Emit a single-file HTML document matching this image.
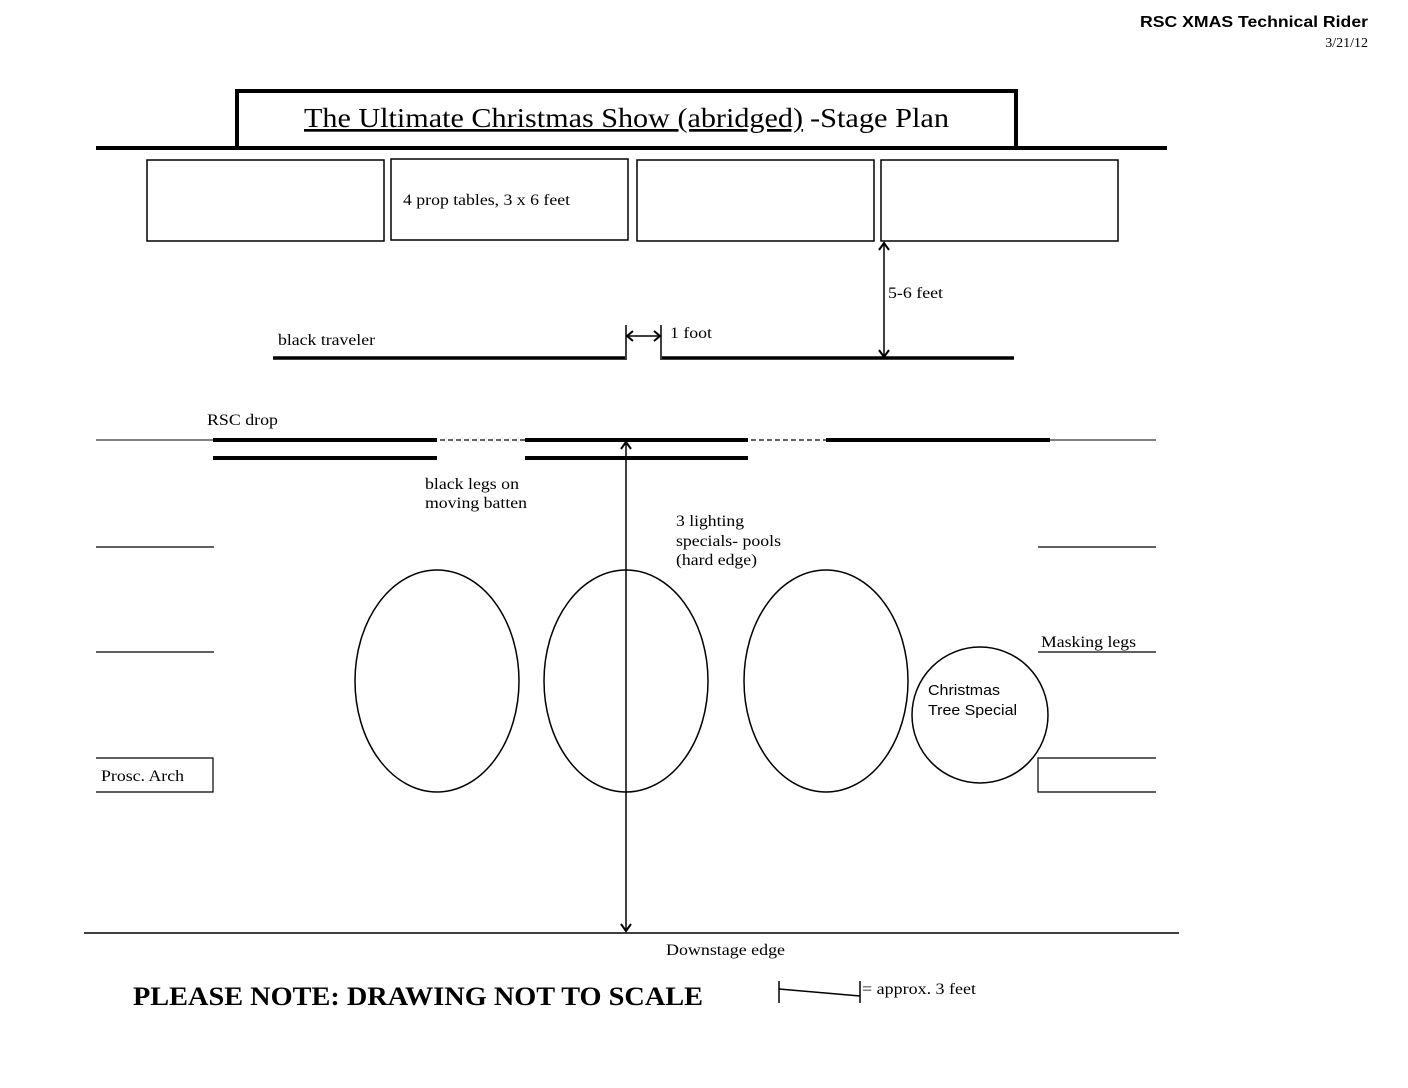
<!DOCTYPE html>
<html><head><style>body{margin:0;background:#fff}</style></head><body>
<svg width="1408" height="1088" xmlns="http://www.w3.org/2000/svg" style="display:block">
<g font-family="Liberation Serif, serif" fill="#000">
<text x="1140" y="27" textLength="228" lengthAdjust="spacingAndGlyphs" font-family="Liberation Sans, sans-serif" font-weight="bold" font-size="16">RSC XMAS Technical Rider</text>
<text x="1368" y="47" text-anchor="end" font-size="14">3/21/12</text>
</g>
<g fill="none" stroke="#000">
<rect x="237" y="91" width="779" height="57" stroke-width="4"/>
<line x1="96" y1="148" x2="1167" y2="148" stroke-width="4"/>
<rect x="147" y="160" width="237" height="81" stroke-width="1.5"/>
<rect x="391" y="159" width="237" height="81" stroke-width="1.5"/>
<rect x="637" y="160" width="237" height="81" stroke-width="1.5"/>
<rect x="881" y="160" width="237" height="81" stroke-width="1.5"/>
<line x1="273" y1="358" x2="625" y2="358" stroke-width="3.5"/>
<line x1="662" y1="358" x2="1014" y2="358" stroke-width="3.5"/>
<line x1="626" y1="325" x2="626" y2="360" stroke-width="1.5"/>
<line x1="661" y1="325" x2="661" y2="360" stroke-width="1.5"/>
<line x1="627" y1="336" x2="660" y2="336" stroke-width="1.5"/>
<polyline points="633,331 627,336 633,341" stroke-width="2"/>
<polyline points="654,331 660,336 654,341" stroke-width="2"/>
<line x1="884" y1="243" x2="884" y2="357" stroke-width="1.5"/>
<polyline points="879,250 884,243 889,250" stroke-width="2"/>
<polyline points="879,350 884,357 889,350" stroke-width="2"/>
<line x1="96" y1="440" x2="1156" y2="440" stroke-width="1"/>
<line x1="213" y1="440" x2="437" y2="440" stroke-width="4"/>
<line x1="213" y1="458" x2="437" y2="458" stroke-width="4"/>
<line x1="525" y1="440" x2="748" y2="440" stroke-width="4"/>
<line x1="525" y1="458" x2="748" y2="458" stroke-width="4"/>
<line x1="826" y1="440" x2="1050" y2="440" stroke-width="4"/>
<line x1="437" y1="440" x2="525" y2="440" stroke="#fff" stroke-width="3"/>
<line x1="748" y1="440" x2="826" y2="440" stroke="#fff" stroke-width="3"/>
<line x1="440" y1="440" x2="525" y2="440" stroke-width="1.2" stroke-dasharray="5,3"/>
<line x1="751" y1="440" x2="826" y2="440" stroke-width="1.2" stroke-dasharray="5,3"/>
<line x1="626" y1="442" x2="626" y2="931" stroke-width="1.5"/>
<polyline points="621,449 626,442 631,449" stroke-width="2"/>
<polyline points="621,924 626,931 631,924" stroke-width="2"/>
<line x1="96" y1="547" x2="214" y2="547" stroke-width="1.2"/>
<line x1="96" y1="652" x2="214" y2="652" stroke-width="1.2"/>
<polyline points="96,758 213,758 213,792 96,792" stroke-width="1.2"/>
<line x1="1038" y1="547" x2="1156" y2="547" stroke-width="1.2"/>
<line x1="1038" y1="652" x2="1156" y2="652" stroke-width="1.2"/>
<polyline points="1156,758 1038,758 1038,792 1156,792" stroke-width="1.2"/>
<ellipse cx="437" cy="681" rx="82" ry="111" stroke-width="1.5"/>
<ellipse cx="626" cy="681" rx="82" ry="111" stroke-width="1.5"/>
<ellipse cx="826" cy="681" rx="82" ry="111" stroke-width="1.5"/>
<circle cx="980" cy="715" r="68" stroke-width="1.5"/>
<line x1="84" y1="933" x2="1179" y2="933" stroke-width="1.5"/>
<line x1="779" y1="981" x2="779" y2="1003" stroke-width="1.5"/>
<line x1="860" y1="981" x2="860" y2="1003" stroke-width="1.5"/>
<line x1="779" y1="989" x2="860" y2="996" stroke-width="1.5"/>
</g>
<g font-family="Liberation Serif, serif" font-size="16" fill="#000" lengthAdjust="spacingAndGlyphs">
<text x="304" y="127" font-size="27" text-decoration="underline" textLength="499" lengthAdjust="spacingAndGlyphs">The Ultimate Christmas Show (abridged)</text>
<text x="810" y="127" font-size="27" textLength="139" lengthAdjust="spacingAndGlyphs">-Stage Plan</text>
<text x="403" y="205" textLength="167" lengthAdjust="spacingAndGlyphs">4 prop tables, 3 x 6 feet</text>
<text x="888" y="298" textLength="55" lengthAdjust="spacingAndGlyphs">5-6 feet</text>
<text x="670" y="338" textLength="42" lengthAdjust="spacingAndGlyphs">1 foot</text>
<text x="278" y="345" textLength="97" lengthAdjust="spacingAndGlyphs">black traveler</text>
<text x="207" y="425" textLength="71" lengthAdjust="spacingAndGlyphs">RSC drop</text>
<text x="425" y="489" textLength="94" lengthAdjust="spacingAndGlyphs">black legs on</text>
<text x="425" y="508" textLength="102" lengthAdjust="spacingAndGlyphs">moving batten</text>
<text x="676" y="526" textLength="68" lengthAdjust="spacingAndGlyphs">3 lighting</text>
<text x="676" y="546" textLength="105" lengthAdjust="spacingAndGlyphs">specials- pools</text>
<text x="676" y="565" textLength="81" lengthAdjust="spacingAndGlyphs">(hard edge)</text>
<text x="1041" y="647" textLength="95" lengthAdjust="spacingAndGlyphs">Masking legs</text>
<text x="101" y="781" textLength="83" lengthAdjust="spacingAndGlyphs">Prosc. Arch</text>
<text x="928" y="695" font-family="Liberation Sans, sans-serif" font-size="15" textLength="72" lengthAdjust="spacingAndGlyphs">Christmas</text>
<text x="928" y="715" font-family="Liberation Sans, sans-serif" font-size="15" textLength="89" lengthAdjust="spacingAndGlyphs">Tree Special</text>
<text x="666" y="955" textLength="119" lengthAdjust="spacingAndGlyphs">Downstage edge</text>
<text x="133" y="1005" font-size="26" font-weight="bold" textLength="570" lengthAdjust="spacingAndGlyphs">PLEASE NOTE: DRAWING NOT TO SCALE</text>
<text x="862" y="994" textLength="114" lengthAdjust="spacingAndGlyphs">= approx. 3 feet</text>
</g>
</svg>
</body></html>
